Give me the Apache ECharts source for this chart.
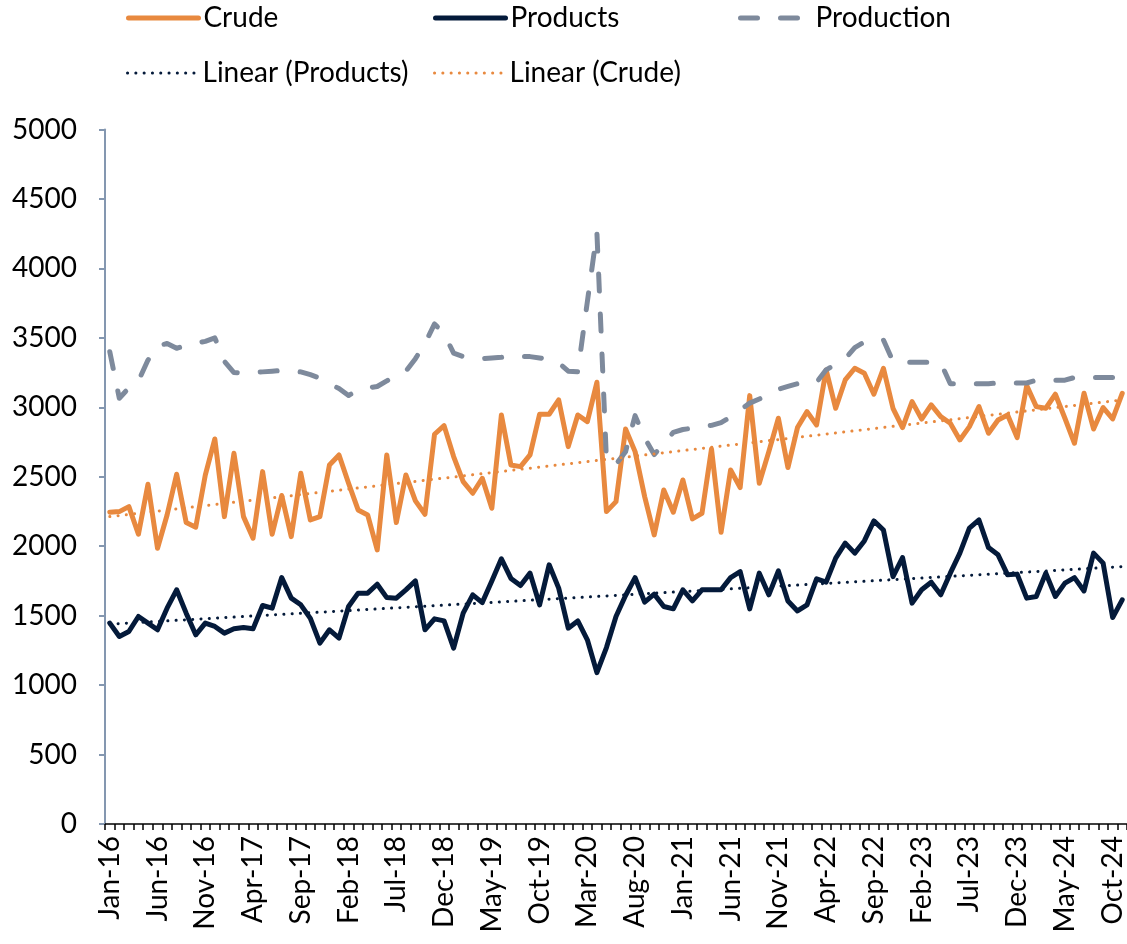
<!DOCTYPE html>
<html>
<head>
<meta charset="utf-8">
<script src="https://cdn.jsdelivr.net/npm/echarts@6/dist/echarts.min.js"></script>
<style>
  html, body { margin: 0; padding: 0; background: #fff; }
  #chart { width: 1127px; height: 944px; }
</style>
</head>
<body>
<div id="chart"></div>
<script>
// monthly categories, Jan-16 .. Nov-24
const months = [
  'Jan-16','Feb-16','Mar-16','Apr-16','May-16','Jun-16','Jul-16','Aug-16','Sep-16','Oct-16','Nov-16','Dec-16',
  'Jan-17','Feb-17','Mar-17','Apr-17','May-17','Jun-17','Jul-17','Aug-17','Sep-17','Oct-17','Nov-17','Dec-17',
  'Jan-18','Feb-18','Mar-18','Apr-18','May-18','Jun-18','Jul-18','Aug-18','Sep-18','Oct-18','Nov-18','Dec-18',
  'Jan-19','Feb-19','Mar-19','Apr-19','May-19','Jun-19','Jul-19','Aug-19','Sep-19','Oct-19','Nov-19','Dec-19',
  'Jan-20','Feb-20','Mar-20','Apr-20','May-20','Jun-20','Jul-20','Aug-20','Sep-20','Oct-20','Nov-20','Dec-20',
  'Jan-21','Feb-21','Mar-21','Apr-21','May-21','Jun-21','Jul-21','Aug-21','Sep-21','Oct-21','Nov-21','Dec-21',
  'Jan-22','Feb-22','Mar-22','Apr-22','May-22','Jun-22','Jul-22','Aug-22','Sep-22','Oct-22','Nov-22','Dec-22',
  'Jan-23','Feb-23','Mar-23','Apr-23','May-23','Jun-23','Jul-23','Aug-23','Sep-23','Oct-23','Nov-23','Dec-23',
  'Jan-24','Feb-24','Mar-24','Apr-24','May-24','Jun-24','Jul-24','Aug-24','Sep-24','Oct-24','Nov-24'
]

const crude = [
  2245, 2249, 2285, 2086, 2446, 1985, 2225, 2518, 2170, 2137, 2512, 2772,
  2213, 2669, 2213, 2058, 2537, 2086, 2365, 2069, 2525, 2189, 2213, 2585,
  2657, 2453, 2261, 2225, 1973, 2657, 2170, 2513, 2326, 2230, 2806, 2868,
  2645, 2465, 2381, 2489, 2273, 2945, 2585, 2573, 2657, 2950, 2950, 3053,
  2717, 2945, 2897, 3180, 2249, 2321, 2844, 2681, 2357, 2081, 2405, 2245,
  2477, 2197, 2237, 2700, 2100, 2549, 2422, 3084, 2453, 2681, 2921, 2566,
  2854, 2969, 2873, 3269, 2993, 3197, 3281, 3245, 3094, 3281, 2993, 2854,
  3041, 2915, 3017, 2933, 2885, 2765, 2861, 3005, 2813, 2909, 2945, 2782,
  3156, 3005, 2993, 3094, 2921, 2741, 3101, 2844, 2998, 2916, 3101
]

const products = [
  1446, 1350, 1386, 1494, 1446, 1398, 1554, 1686, 1518, 1362, 1446, 1422,
  1374, 1405, 1414, 1405, 1573, 1554, 1774, 1626, 1578, 1480, 1302, 1398,
  1338, 1566, 1662, 1662, 1726, 1630, 1626, 1686, 1750, 1398, 1477, 1462,
  1266, 1518, 1650, 1594, 1750, 1909, 1768, 1717, 1806, 1578, 1866, 1698,
  1410, 1462, 1326, 1090, 1270, 1494, 1645, 1774, 1597, 1655, 1566, 1549,
  1686, 1606, 1686, 1686, 1686, 1774, 1817, 1549, 1806, 1650, 1822, 1606,
  1534, 1578, 1765, 1741, 1914, 2022, 1950, 2038, 2182, 2117, 1781, 1918,
  1590, 1686, 1741, 1650, 1806, 1950, 2130, 2189, 1990, 1938, 1794, 1799,
  1626, 1638, 1806, 1638, 1734, 1774, 1678, 1950, 1878, 1486, 1614
]

const production = [
  3400, 3065, 3140, 3190, 3340, 3440, 3460, 3425, 3445, 3460, 3475, 3500,
  3330, 3250, 3245, 3250, 3255, 3260, 3265, 3260, 3255, 3235, 3210, 3170,
  3135, 3085, 3125, 3140, 3150, 3190, 3235, 3260, 3350, 3460, 3600, 3530,
  3390, 3365, 3355, 3350, 3355, 3360, 3370, 3365, 3365, 3355, 3345, 3320,
  3260, 3255, 3760, 4260, 2620, 2590, 2680, 2940, 2780, 2660, 2740, 2820,
  2840, 2850, 2860, 2870, 2890, 2930, 2980, 3030, 3060, 3090, 3130, 3150,
  3170, 3175, 3180, 3270, 3310, 3350, 3430, 3470, 3485, 3485, 3330, 3325,
  3325, 3325, 3325, 3320, 3170, 3170, 3170, 3170, 3170, 3175, 3175, 3175,
  3175, 3195, 3195, 3195, 3195, 3215, 3215, 3215, 3215, 3215, 3215
]

// Excel trendline end values (first and last month)
const productsTrend = [1439, 1853]
const crudeTrend = [2213, 3053]

const yTicks = { min: 0, max: 5000, interval: 500 }

const FONT = 'Lato'
const ORANGE = '#E8893F'
const NAVY = '#041A3A'
const GREY = '#7E8A9C'

const chart = echarts.init(document.getElementById('chart'))

function line(name, data, color, width, type, z) {
  return {
    name,
    type: 'line',
    data,
    symbol: 'none',
    z,
    animation: false,
    lineStyle: { color, width, type, cap: 'round', join: 'round' },
    itemStyle: { color },
  }
}

function trend(ends) {
  return [[months[0], ends[0]], [months[months.length - 1], ends[1]]]
}

function legend(name, left, top, lineWidth) {
  return {
    data: [name],
    left,
    top,
    padding: 0,
    itemWidth: 70,
    itemHeight: 6,
    selectedMode: false,
    itemStyle: { opacity: 0 },
    lineStyle: { width: lineWidth },
    textStyle: { color: '#000', fontSize: 28, fontFamily: FONT },
  }
}

chart.setOption({
  backgroundColor: '#fff',
  animation: false,
  grid: { left: 105, right: 0, top: 129.5, bottom: 120, containLabel: false },
  legend: [
    legend('Crude', 126, 4, 5),
    legend('Products', 433, 4, 5),
    legend('Production', 738, 4, 5),
    legend('Linear (Products)', 126, 59, 3),
    legend('Linear (Crude)', 433, 59, 3),
  ],
  xAxis: {
    type: 'category',
    data: months,
    boundaryGap: true,
    axisLine: { lineStyle: { color: '#000', width: 1.5 } },
    axisTick: { show: true, interval: 0, length: 6, lineStyle: { color: '#000', width: 1.5 } },
    axisLabel: {
      interval: 4,
      rotate: 90,
      margin: 12,
      color: '#000',
      fontSize: 28,
      fontFamily: FONT,
    },
    splitLine: { show: false },
  },
  yAxis: {
    type: 'value',
    min: yTicks.min,
    max: yTicks.max,
    interval: yTicks.interval,
    axisLine: { show: true, lineStyle: { color: '#8497B0', width: 2 } },
    axisTick: { show: true, length: 6, lineStyle: { color: '#8497B0', width: 2 } },
    axisLabel: {
      margin: 28,
      color: '#000',
      fontSize: 28,
      fontFamily: FONT,
      formatter: (v) => String(v),
    },
    splitLine: { show: false },
  },
  series: [
    line('Crude', crude, ORANGE, 5, 'solid', 2),
    line('Products', products, NAVY, 5, 'solid', 3),
    line('Production', production, GREY, 5, [17, 23], 4),
    line('Linear (Products)', trend(productsTrend), NAVY, 3, [0.1, 8.2], 5),
    line('Linear (Crude)', trend(crudeTrend), ORANGE, 3, [0.1, 8.2], 6),
  ],
})
</script>
</body>
</html>
